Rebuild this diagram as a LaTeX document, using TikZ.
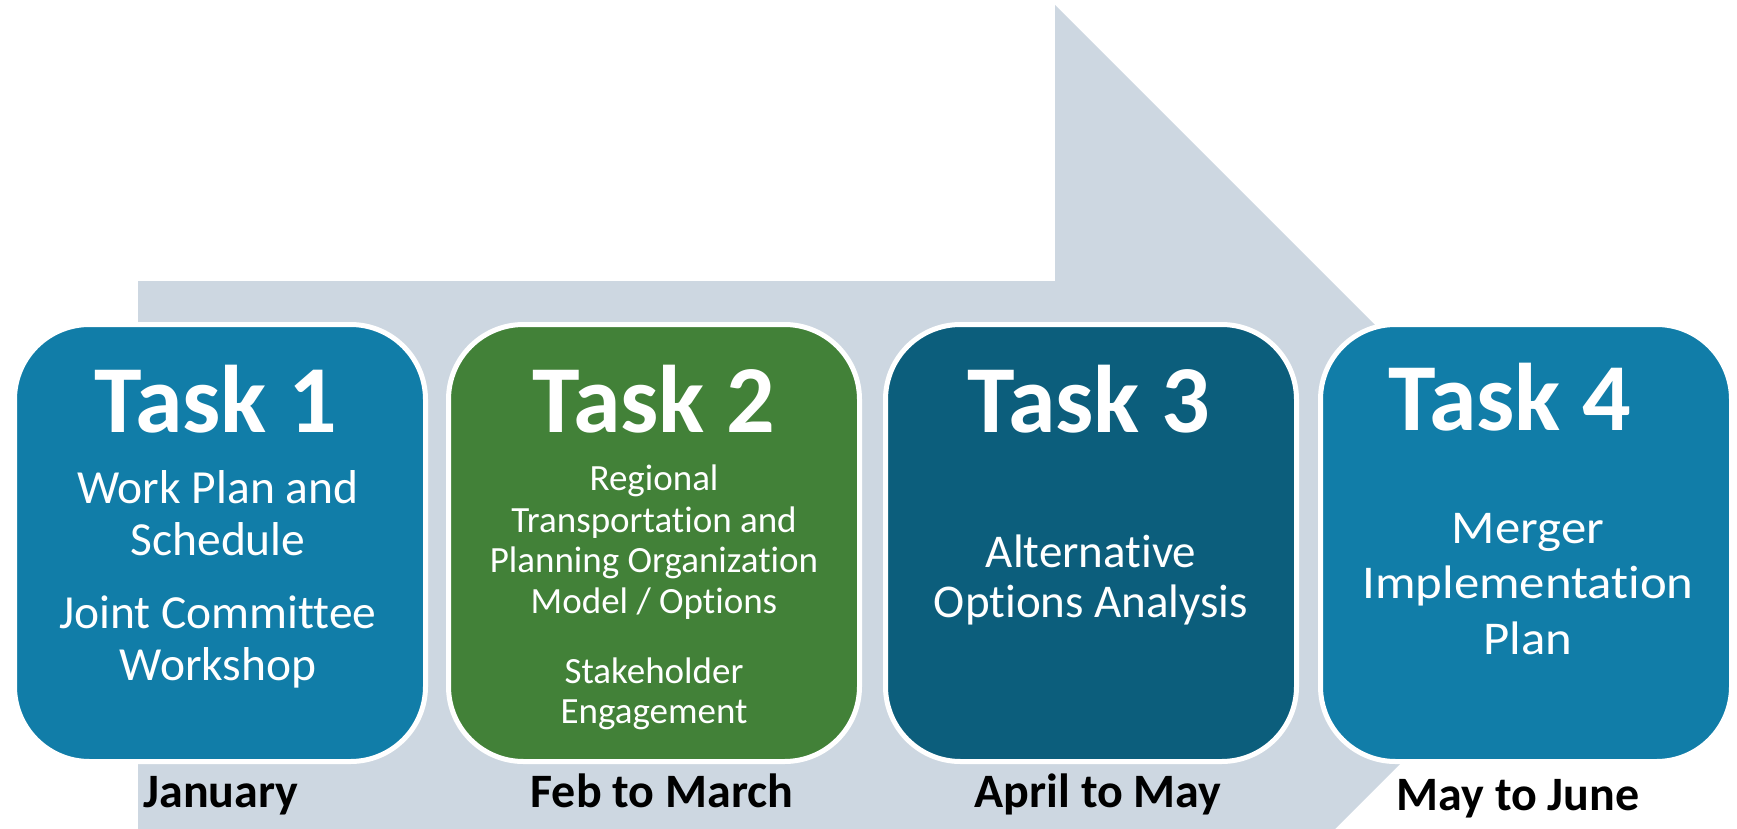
\documentclass[tikz,border=0pt]{standalone}
\usepackage{fontspec}
\setmainfont{Carlito}[Ligatures=NoCommon]
\usepackage{graphicx}
\definecolor{bluebox}{RGB}{17,125,168}
\definecolor{darkbox}{RGB}{12,94,124}
\definecolor{greenbox}{RGB}{66,129,56}
\definecolor{arrowgray}{RGB}{205,215,225}
\tikzset{
  taskbox/.style={draw=white, line width=5pt, rounded corners=75pt, minimum width=411pt, minimum height=437pt, inner sep=0pt},
  title/.style={anchor=base, text=white, font=\fontsize{96}{100}\selectfont\bfseries, inner sep=0pt},
  bodyA/.style={anchor=base, text=white, font=\fontsize{47.5}{50}\selectfont, inner sep=0pt},
  bodyB/.style={anchor=base, text=white, font=\fontsize{37}{40}\selectfont, inner sep=0pt},
  bodyC/.style={anchor=base, text=white, font=\fontsize{47}{50}\selectfont, inner sep=0pt},
  month/.style={anchor=base, text=black, font=\fontsize{48}{50}\selectfont\bfseries, inner sep=0pt}
}
\begin{document}
\begin{tikzpicture}[x=1pt,y=-1pt]
\useasboundingbox (0,0) rectangle (1737,829);
\begin{scope}
\clip (0,0) rectangle (1737,829);
\fill[arrowgray] (138,281) -- (1055,281) -- (1055,5) -- (1607,557) -- (1055,1109) -- (1055,833) -- (138,833) -- cycle;
\end{scope}
% boxes
\node[taskbox, fill=bluebox] (b1) at (220,543) {};
\node[taskbox, fill=greenbox] (b2) at (654,543) {};
\node[taskbox, fill=darkbox] (b3) at (1091,543) {};
\node[taskbox, fill=bluebox] (b4) at (1526,543) {};
% titles
\node[title] (t1) at (216,432) {Task 1};
\node[title] (t2) at (654,432) {Task 2};
\node[title] (t3) at (1089,432) {Task 3};
\node[title] (t4) at (1510,430) {Task 4};
% task 1 body
\node[bodyA] (t1l1) at (218,503) {Work Plan and};
\node[bodyA] (t1l2) at (218,555) {Schedule};
\node[bodyA] (t1l3) at (218,628) {Joint Committee};
\node[bodyA] (t1l4) at (218,680) {Workshop};
% task 2 body
\node[bodyB] (t2l1) at (654,490) {Regional};
\node[bodyB] (t2l2) at (654,532) {Transportation and};
\node[bodyB] (t2l3) at (654,572) {Planning Organization};
\node[bodyB] (t2l4) at (654,613) {Model / Options};
\node[bodyB] (t2l5) at (654,683) {Stakeholder};
\node[bodyB] (t2l6) at (654,723) {Engagement};
% task 3 body
\node[bodyC] (t3l1) at (1091,567) {Alternative};
\node[bodyC] (t3l2) at (1091,617) {Options Analysis};
% task 4 body
\node[bodyC] (t4l1) at (1528,543) {\scalebox{1.08}[1]{Merger}};
\node[bodyC] (t4l2) at (1528,598) {\scalebox{1.08}[1]{Implementation}};
\node[bodyC] (t4l3) at (1528,654) {\scalebox{1.08}[1]{Plan}};
% months
\node[month] (m1) at (221,807) {January};
\node[month] (m2) at (662,807) {Feb to March};
\node[month] (m3) at (1098,807) {April to May};
\node[month] (m4) at (1518,810) {May to June};
\end{tikzpicture}
\end{document}
